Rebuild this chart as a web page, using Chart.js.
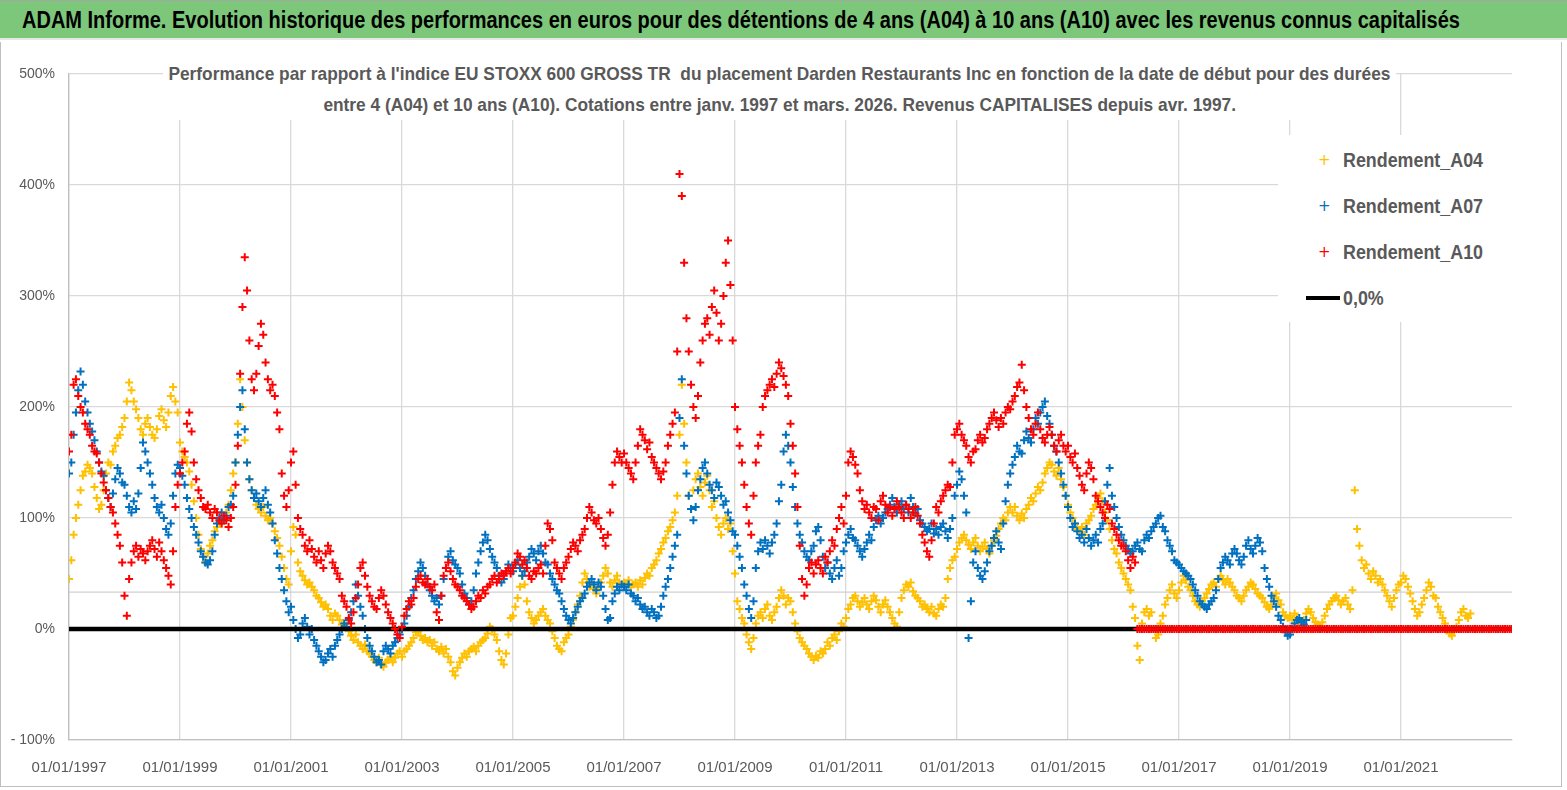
<!DOCTYPE html>
<html lang="fr">
<head>
  <meta charset="UTF-8">
  <title>ADAM Informe - Darden Restaurants Inc</title>
  <script src="https://cdn.jsdelivr.net/npm/chart.js"></script>
  <style>
    body {
      margin: 0;
      width: 1567px;
      height: 790px;
      overflow: hidden;
      background: #fff;
      font-family: "Liberation Sans", Arial, sans-serif;
    }
    #header {
      position: absolute;
      left: 0; top: 0;
      width: 1567px; height: 40px;
      background: #7dc77b;
      border-top: 1px solid #a6a6a6;
      border-bottom: 2px solid #e6e6e6;
      box-sizing: border-box;
      font-weight: bold;
      font-size: 23px;
      line-height: 38px;
      padding-left: 22px;
      color: #000;
      white-space: nowrap;
    }
    #frame {
      position: absolute;
      left: 0; top: 42px;
      width: 1562px; height: 745px;
      border-right: 1px solid #bfbfbf;
      border-bottom: 1px solid #bfbfbf;
      border-left: 1px solid #bfbfbf;
      box-sizing: border-box;
    }
    .chart-box {
      position: absolute;
      left: 0; top: 42px;
      width: 1561px; height: 740px;
    }
    #title {
      position: absolute;
      left: 163px; top: 58px;
      width: 1233px; height: 62px;
      background: #fff;
      text-align: center;
      font-weight: bold;
      font-size: 19px;
      line-height: 31px;
      color: #595959;
    }
    #title div { height: 31px; margin: 0 -400px; }
    .fit { display: inline-block; white-space: pre; }
    #legend {
      position: absolute;
      left: 1278px; top: 135px;
      width: 234px; height: 187px;
      background: #fff;
      padding-top: 2px;
      box-sizing: border-box;
    }
    .item {
      position: relative;
      height: 46px;
      line-height: 46px;
      font-weight: bold;
      font-size: 20px;
      color: #595959;
    }
    .item .txt { position: absolute; left: 65px; transform-origin: left center; }
    .item .mark {
      position: absolute;
      left: 40px;
      font-size: 15px;
      font-weight: normal;
      font-family: "DejaVu Sans", sans-serif;
    }
    .item .zline {
      position: absolute;
      left: 28px; top: 21px;
      width: 34px; height: 4px;
      background: #000;
    }
  </style>
</head>
<body>

  <div id="header"><span class="fit" id="headText">ADAM Informe. Evolution historique des performances en euros pour des détentions de 4 ans (A04) à 10 ans (A10) avec les revenus connus capitalisés</span></div>
  <div id="frame"></div>
  <div class="chart-box">
    <canvas id="perfChart"></canvas>
  </div>
  <div id="title"><div><span class="fit" id="title1">Performance par rapport à l'indice EU STOXX 600 GROSS TR  du placement Darden Restaurants Inc en fonction de la date de début pour des durées</span></div><div><span class="fit" id="title2">entre 4 (A04) et 10 ans (A10). Cotations entre janv. 1997 et mars. 2026. Revenus CAPITALISES depuis avr. 1997.</span></div></div>
  <div id="legend"></div>

  <script>
    // samples every half month, first one on 01/01/1997
    const startYear = 1997;
    const step = 1 / 24;

    const seriesNames = ['Rendement_A04', 'Rendement_A07', 'Rendement_A10'];
    const zeroLabel = '0,0%';
    const xTickYears = [1997, 1999, 2001, 2003, 2005, 2007, 2009, 2011, 2013, 2015, 2017, 2019, 2021];
    const yTicks = [-100, 0, 100, 200, 300, 400, 500];
    const xRange = [1997, 2023];
    const guideLevel = 33.3;

    // performance in %, one row per year
    const a04 = [
      45, 62, 85, 100, 112, 125, 138, 142, 148, 145, 140, 128, 118, 108, 112, 125, 140, 150, 148, 160, 165, 172, 175, 182,
      190, 205, 222, 215, 205, 198, 190, 180, 175, 185, 190, 182, 175, 172, 180, 192, 198, 188, 182, 195, 210, 218, 205, 195,
      168, 160, 155, 150, 142, 130, 115, 100, 85, 72, 65, 60, 68, 75, 80, 88, 92, 96, 95, 98, 105, 112, 125, 140,
      150, 185, 225, 200, 170, 150, 135, 125, 118, 112, 108, 105, 110, 102, 98, 100, 95, 88, 82, 75, 65, 55, 45, 40,
      70, 92, 85, 60, 52, 48, 44, 40, 42, 38, 35, 30, 28, 24, 20, 22, 18, 12, 8, 14, 12, 8, 4, 2,
      5, -2, -6, -10, -5, -12, -15, -18, -14, -20, -22, -25, -28, -30, -26, -32, -34, -30, -28, -25, -30, -26, -22, -20,
      -25, -20, -18, -15, -12, -8, -3, -2, -6, -10, -8, -12, -10, -15, -12, -18, -20, -16, -22, -18, -25, -30, -38, -42,
      -35, -30, -26, -22, -25, -20, -18, -16, -20, -15, -12, -10, -8, -4, 2, 0, -5, -10, -20, -28, -32, -22, -5, 10,
      12, 20, 28, 38, 48, 40, 25, 15, 10, 5, 8, 12, 15, 18, 12, 8, 5, -2, -8, -15, -18, -20, -12, -8,
      -5, 2, 8, 15, 22, 30, 42, 50, 45, 38, 40, 36, 32, 38, 42, 48, 55, 50, 42, 38, 44, 48, 42, 40,
      42, 40, 44, 38, 40, 42, 38, 44, 40, 46, 50, 48, 55, 58, 62, 68, 72, 78, 82, 88, 92, 98, 105, 120,
      175, 220, 185, 150, 120, 108, 125, 135, 140, 128, 120, 132, 138, 125, 110, 115, 100, 92, 85, 95, 100, 90, 95, 70,
      50, 25, 18, 10, 5, -5, -12, -18, -8, 5, 12, 15, 10, 18, 22, 12, 8, 15, 20, 28, 35, 30, 22, 28,
      25, 15, 5, -2, -8, -12, -15, -18, -22, -25, -28, -24, -26, -20, -22, -18, -12, -15, -8, -5, -10, -2, 5, 2,
      10, 18, 22, 28, 30, 25, 20, 24, 28, 22, 18, 25, 30, 26, 20, 15, 22, 26, 20, 15, 10, 5, 2, 15,
      28, 35, 40, 38, 42, 34, 30, 28, 25, 20, 22, 18, 15, 20, 14, 12, 18, 22, 20, 28, 45, 55, 62, 65,
      72, 78, 82, 85, 80, 76, 72, 78, 82, 75, 70, 74, 78, 72, 68, 75, 80, 84, 90, 95, 100, 98, 105, 110,
      105, 110, 102, 98, 104, 100, 108, 112, 118, 115, 122, 128, 125, 132, 140, 145, 150, 148, 142, 138, 145, 135, 128, 120,
      112, 105, 100, 95, 90, 88, 92, 85, 95, 98, 102, 108, 112, 118, 122, 115, 105, 98, 90, 80, 72, 68, 60, 55,
      50, 45, 40, 35, 20, 10, -15, -28, 5, 15, 18, 12, 15, 0, -8, -5, 5, 12, 22, 28, 35, 40, 32, 28,
      35, 42, 48, 44, 38, 35, 30, 25, 22, 20, 25, 28, 32, 36, 40, 42, 38, 45, 48, 44, 40, 45, 42, 38,
      35, 30, 28, 25, 30, 35, 38, 42, 40, 36, 32, 30, 28, 24, 20, 18, 22, 28, 32, 26, 22, 15, 12, 10,
      12, 8, 14, 10, 6, 4, 8, 14, 18, 15, 10, 6, 4, 2, 6, 12, 18, 22, 25, 28, 30, 26, 22, 25,
      28, 22, 18, 35, 125, 90, 75, 62, 55, 58, 50, 45, 52, 48, 42, 45, 40, 35, 30, 25, 20, 28, 35, 40,
      42, 48, 45, 38, 32, 25, 18, 12, 15, 22, 28, 35, 42, 38, 30, 28, 20, 15, 10, 5, 0, -4, -6, -2,
      2, 8, 15, 18, 12, 10, 14
    ];

    const a07 = [
      140, 150, 175, 195, 215, 232, 220, 205, 195, 185, 178, 170, 160, 150, 142, 138, 125, 118, 110, 122, 135, 145, 140, 132,
      130, 120, 110, 105, 115, 108, 122, 145, 168, 160, 150, 140, 130, 118, 110, 105, 112, 100, 90, 85, 95, 120, 140, 148,
      145, 138, 130, 118, 108, 100, 92, 85, 78, 70, 65, 60, 58, 62, 70, 85, 95, 100, 105, 98, 102, 110, 112, 120,
      150, 175, 200, 215, 180, 150, 135, 125, 118, 122, 115, 110, 118, 125, 112, 105, 95, 80, 68, 55, 45, 35, 25, 15,
      20, 8, 0, -8, -5, 5, 10, 2, -5, 0, -10, -15, -20, -25, -30, -28, -22, -18, -25, -15, -10, -5, 0, 5,
      2, 8, 15, 25, 40, 30, 20, 12, 0, -8, -15, -20, -25, -30, -28, -32, -20, -15, -18, -22, -15, -12, -8, -5,
      0, 5, 12, 20, 28, 35, 45, 52, 60, 55, 48, 40, 35, 30, 25, 28, 22, 30, 45, 55, 65, 70, 62, 58,
      55, 50, 40, 32, 28, 22, 25, 35, 50, 60, 70, 78, 85, 80, 72, 65, 60, 55, 48, 42, 45, 52, 58, 55,
      52, 58, 62, 55, 48, 52, 60, 65, 72, 68, 62, 70, 75, 68, 60, 58, 50, 45, 40, 35, 32, 25, 18, 12,
      8, 5, 10, 15, 20, 25, 28, 32, 38, 42, 45, 40, 35, 42, 38, 30, 18, 8, 10, 25, 32, 38, 35, 40,
      38, 35, 40, 32, 30, 25, 28, 22, 18, 20, 15, 12, 18, 15, 10, 12, 20, 30, 38, 45, 55, 65, 75, 85,
      190, 225, 165, 140, 120, 108, 98, 110, 125, 135, 145, 150, 140, 130, 125, 118, 132, 128, 120, 112, 115, 105, 98, 88,
      85, 75, 65, 55, 40, 30, 18, 10, 25, 55, 70, 78, 72, 80, 75, 68, 78, 85, 95, 115, 130, 160, 175, 165,
      150, 128, 110, 95, 85, 78, 70, 65, 62, 70, 75, 88, 92, 80, 65, 55, 60, 50, 45, 55, 62, 48, 55, 70,
      78, 85, 90, 82, 80, 75, 70, 65, 72, 78, 85, 80, 92, 98, 102, 95, 100, 105, 108, 112, 118, 110, 105, 112,
      115, 108, 112, 105, 118, 110, 104, 108, 98, 95, 92, 88, 90, 95, 86, 90, 85, 92, 95, 88, 82, 90, 100, 120,
      130, 142, 135, 120, 105, -8, 25, 60, 70, 55, 48, 45, 52, 60, 70, 75, 82, 88, 78, 72, 95, 115, 130, 140,
      148, 155, 165, 160, 158, 170, 178, 172, 168, 180, 190, 185, 195, 200, 205, 192, 185, 175, 165, 160, 150, 140, 130, 120,
      110, 100, 92, 95, 88, 82, 85, 78, 90, 82, 75, 80, 85, 78, 90, 95, 115, 130, 145, 120, 110, 100, 92, 85,
      80, 75, 72, 68, 70, 75, 78, 72, 70, 80, 85, 82, 88, 92, 95, 100, 102, 92, 88, 80, 75, 70, 62, 60,
      58, 55, 52, 50, 48, 45, 40, 35, 30, 25, 22, 20, 18, 22, 25, 28, 35, 45, 55, 60, 65, 62, 58, 68,
      72, 68, 62, 58, 65, 75, 80, 72, 68, 75, 82, 78, 70, 55, 45, 38, 30, 25, 20, 12, 8, 2, -3, -6,
      -5, 0, 5, 8, 10, 6, 4, 8
    ];

    const a10 = [
      160, 175, 220, 225, 210, 200, 195, 185, 180, 175, 165, 160, 158, 150, 140, 132, 125, 118, 110, 105, 95, 85, 75, 60,
      30, 12, 45, 60, 70, 75, 65, 72, 68, 62, 70, 75, 80, 72, 65, 78, 70, 62, 55, 48, 40, 70, 110, 130,
      140, 150, 160, 185, 195, 178, 150, 135, 125, 118, 110, 108, 112, 105, 100, 108, 105, 98, 95, 102, 98, 92, 100, 110,
      130, 165, 230, 290, 335, 305, 260, 225, 215, 230, 255, 275, 265, 240, 225, 215, 220, 210, 195, 180, 140, 120, 110, 125,
      150, 160, 130, 100, 90, 85, 75, 70, 80, 72, 65, 60, 70, 62, 55, 68, 75, 70, 60, 55, 50, 45, 30, 25,
      20, 10, 5, 15, 28, 40, 55, 60, 48, 38, 30, 25, 20, 18, 28, 35, 30, 22, 15, 10, 5, 0, -5, -8,
      2, 12, 18, 25, 22, 28, 38, 45, 48, 42, 40, 45, 38, 35, 40, 15, 8, 30, 48, 55, 60, 52, 45, 40,
      38, 35, 30, 28, 25, 22, 18, 20, 25, 30, 28, 35, 32, 38, 40, 45, 48, 42, 45, 50, 48, 52, 55, 50,
      55, 60, 68, 65, 58, 62, 55, 48, 45, 52, 50, 55, 58, 50, 75, 95, 90, 80, 60, 55, 50, 45, 55, 60,
      65, 72, 78, 75, 70, 80, 85, 90, 100, 110, 105, 98, 95, 100, 90, 82, 75, 85, 105, 130, 150, 160, 155, 150,
      158, 150, 145, 140, 135, 150, 165, 180, 175, 170, 162, 168, 155, 150, 145, 140, 135, 142, 150, 165, 175, 185, 195, 250,
      410, 390, 330, 280, 250, 220, 200, 190, 210, 240, 260, 275, 280, 265, 290, 305, 285, 260, 275, 300, 330, 350, 310, 260,
      200, 180, 165, 150, 130, 110, 95, 85, 120, 150, 165, 175, 200, 210, 215, 220, 225, 218, 230, 240, 235, 228, 220, 210,
      185, 165, 140, 110, 75, 45, 30, 40, 55, 60, 50, 58, 62, 55, 50, 65, 60, 70, 80, 75, 90, 100, 110, 95,
      120, 150, 160, 155, 148, 140, 125, 115, 108, 112, 105, 100, 110, 108, 98, 115, 120, 112, 105, 110, 102, 108, 115, 110,
      105, 100, 112, 108, 100, 105, 110, 102, 95, 85, 78, 70, 65, 80, 95, 110, 105, 115, 120, 125, 130, 128, 150, 175,
      180, 185, 175, 170, 165, 155, 150, 160, 162, 170, 175, 168, 172, 180, 185, 190, 195, 188, 182, 190, 185, 195, 200, 198,
      205, 210, 218, 222, 238, 215, 200, 190, 180, 175, 185, 195, 180, 172, 168, 175, 182, 175, 165, 160, 170, 175, 165, 160,
      165, 155, 150, 158, 145, 138, 130, 125, 140, 150, 145, 135, 120, 115, 110, 105, 100, 112, 108, 95, 90, 85, 80, 75,
      75, 70, 62, 55, 65, 60, 0, 0, 0, 0, 0, 0, 0, 0, 0, 0, 0, 0, 0, 0, 0, 0, 0, 0, 0, 0, 0, 0, 0, 0,
      0, 0, 0, 0, 0, 0, 0, 0, 0, 0, 0, 0, 0, 0, 0, 0, 0, 0, 0, 0, 0, 0, 0, 0,
      0, 0, 0, 0, 0, 0, 0, 0, 0, 0, 0, 0, 0, 0, 0, 0, 0, 0, 0, 0, 0, 0, 0, 0,
      0, 0, 0, 0, 0, 0, 0, 0, 0, 0, 0, 0, 0, 0, 0, 0, 0, 0, 0, 0, 0, 0, 0, 0,
      0, 0, 0, 0, 0, 0, 0, 0, 0, 0, 0, 0, 0, 0, 0, 0, 0, 0, 0, 0, 0, 0, 0, 0,
      0, 0, 0, 0, 0, 0, 0, 0, 0, 0, 0, 0, 0, 0, 0, 0, 0, 0, 0, 0, 0, 0, 0, 0,
      0, 0, 0, 0, 0, 0, 0, 0, 0, 0, 0, 0, 0, 0, 0, 0, 0, 0, 0, 0, 0, 0, 0, 0,
      0
    ];

    const colors = ['#ffc000', '#0070c0', '#ff0000'];

    const toPoints = vals => vals.map((v, i) => ({ x: startYear + i * step, y: v }));

    function crossSeries(label, vals, color, order) {
      return {
        label: label,
        data: toPoints(vals),
        pointStyle: 'cross',
        pointRadius: 4,
        pointBorderWidth: 2,
        borderColor: color,
        backgroundColor: color,
        showLine: false,
        order: order
      };
    }

    // squeeze a text span to the width it had in the original (narrow Calibri look)
    function squeeze(el, target, origin) {
      const w = el.getBoundingClientRect().width;
      el.style.transformOrigin = origin;
      el.style.transform = 'scaleX(' + (target / w) + ')';
      return target / w;
    }

    squeeze(document.getElementById('headText'), 1438, 'left center');
    const k = squeeze(document.getElementById('title1'), 1222, 'center center');
    const t2 = document.getElementById('title2');
    t2.style.transformOrigin = 'center center';
    t2.style.transform = 'scaleX(' + k + ')';

    // html legend sitting inside the plot, like the original
    const legendEl = document.getElementById('legend');
    seriesNames.forEach((name, i) => {
      legendEl.innerHTML += '<div class="item"><span class="mark" style="color:' + colors[i] + '">+</span>' +
        '<span class="txt">' + name + '</span></div>';
    });
    legendEl.innerHTML += '<div class="item"><span class="zline"></span><span class="txt">' + zeroLabel + '</span></div>';
    const legendTexts = legendEl.querySelectorAll('.txt');
    const lk = 140 / legendTexts[0].getBoundingClientRect().width;
    legendTexts.forEach(t => { t.style.transform = 'scaleX(' + lk + ')'; });

    const ctx = document.getElementById('perfChart').getContext('2d');

    new Chart(ctx, {
      type: 'scatter',
      data: {
        datasets: [
          crossSeries(seriesNames[0], a04, colors[0], 3),
          crossSeries(seriesNames[1], a07, colors[1], 2),
          crossSeries(seriesNames[2], a10, colors[2], 0),
          {
            label: zeroLabel,
            data: xRange.map(x => ({ x: x, y: 0 })),
            showLine: true,
            borderColor: '#000',
            borderWidth: 4.5,
            pointRadius: 0,
            order: 1
          },
          {
            label: '',
            data: xRange.map(x => ({ x: x, y: guideLevel })),
            showLine: true,
            borderColor: '#d0d0d0',
            borderWidth: 1.2,
            pointRadius: 0,
            order: 5
          }
        ]
      },
      options: {
        responsive: true,
        maintainAspectRatio: false,
        animation: false,
        layout: {
          padding: { left: 0, right: 49, top: 32, bottom: 0 }
        },
        plugins: {
          legend: { display: false },
          title: { display: false },
          tooltip: { enabled: false }
        },
        scales: {
          x: {
            type: 'linear',
            min: xRange[0],
            max: xRange[1],
            afterBuildTicks: function(scale) {
              scale.ticks = xTickYears.map(y => ({ value: y }));
            },
            afterFit: function(scale) {
              scale.height = 42;
            },
            grid: {
              color: '#d9d9d9',
              lineWidth: 1.3,
              drawTicks: false
            },
            border: { color: '#bfbfbf', width: 1.3 },
            ticks: {
              autoSkip: false,
              maxRotation: 0,
              padding: 19,
              color: '#595959',
              font: { family: 'Liberation Sans', size: 15 },
              callback: function(value) {
                return '01/01/' + value;
              }
            }
          },
          y: {
            min: yTicks[0],
            max: yTicks[yTicks.length - 1],
            afterBuildTicks: function(scale) {
              scale.ticks = yTicks.map(v => ({ value: v }));
            },
            afterFit: function(scale) {
              scale.width = 69;
            },
            grid: {
              color: '#d9d9d9',
              lineWidth: 1.3,
              drawTicks: false
            },
            border: { color: '#bfbfbf', width: 1.3 },
            ticks: {
              padding: 14,
              color: '#595959',
              font: { family: 'Liberation Sans', size: 14 },
              callback: function(value) {
                return value < 0 ? '- ' + Math.abs(value) + '%' : value + '%';
              }
            }
          }
        }
      }
    });
  </script>

</body>
</html>
